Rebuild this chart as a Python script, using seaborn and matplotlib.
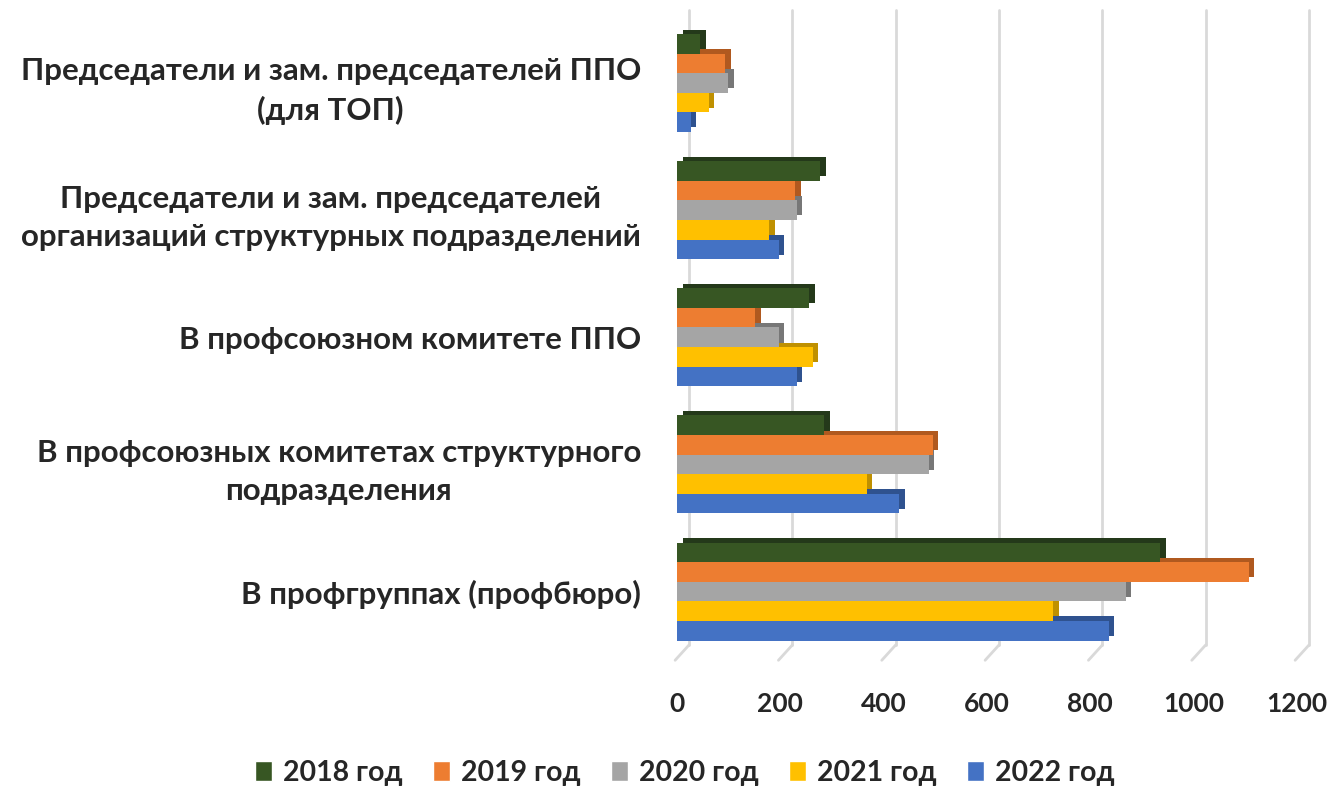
import pandas as pd
import numpy as np
import matplotlib
matplotlib.use('Agg')
import matplotlib.pyplot as plt
import seaborn as sns
from matplotlib.patches import Rectangle
from matplotlib.transforms import ScaledTranslation

sns.set_style('white')
plt.rcParams['font.family'] = ['Lato', 'DejaVu Sans']
plt.rcParams['font.weight'] = 'bold'

# Data
categories = [
    'Председатели и зам. председателей ППО\n(для ТОП)',
    'Председатели и зам. председателей\nорганизаций структурных подразделений',
    'В профсоюзном комитете ППО',
    'В профсоюзных комитетах структурного\nподразделения',
    'В профгруппах (профбюро)',
]
years = ['2018 год', '2019 год', '2020 год', '2021 год', '2022 год']
v2018 = [45, 277, 256, 285, 935]
v2019 = [93, 229, 151, 495, 1107]
v2020 = [99, 232, 197, 487, 869]
v2021 = [61, 179, 263, 367, 728]
v2022 = [27, 197, 232, 430, 836]
xticks = [0, 200, 400, 600, 800, 1000, 1200]

colors = ['#375623', '#ED7D31', '#A5A5A5', '#FFC000', '#4472C4']
side_colors = ['#24391a', '#b0591f', '#777777', '#bf9000', '#2f528f']

rows = []
for year, vals in zip(years, [v2018, v2019, v2020, v2021, v2022]):
    for cat, v in zip(categories, vals):
        rows.append({'cat': cat, 'year': year, 'val': v})
df = pd.DataFrame(rows)

fig = plt.figure(figsize=(13.28, 7.89), dpi=100)
ax = fig.add_axes([677 / 1328, 1 - 645 / 789, 620 / 1328, 635 / 789])

sns.barplot(data=df, y='cat', x='val', hue='year', orient='h',
            order=categories, hue_order=years, palette=colors,
            width=0.77, saturation=1, linewidth=0, ax=ax, legend=False)

# fake 3D depth: darker copy of each bar shifted up-right behind it
shift = ScaledTranslation(0.055, 0.045, fig.dpi_scale_trans)
bars = list(ax.patches)
for i, p in enumerate(bars):
    yi = i // len(categories)
    back = Rectangle(p.get_xy(), p.get_width(), p.get_height(),
                     facecolor=side_colors[yi], edgecolor='none',
                     transform=ax.transData + shift, zorder=p.get_zorder() - 0.5)
    ax.add_patch(back)

ax.set_xlim(0, 1200)
ax.set_ylim(4.42, -0.574)
ax.set_xticks(xticks)

# gridlines on the back wall plus the slanted floor lines
wall = ax.get_xaxis_transform() + ScaledTranslation(0.12, 0, fig.dpi_scale_trans)
for x in xticks:
    ax.plot([x, x], [0, 1], color='#d9d9d9', linewidth=2, zorder=0,
            transform=wall, clip_on=False)
    ax.annotate('', xy=(x, 0), xycoords=wall,
                xytext=(-10, -11), textcoords='offset points',
                arrowprops=dict(arrowstyle='-', color='#d9d9d9', lw=2,
                                shrinkA=0, shrinkB=0),
                annotation_clip=False)

for s in ax.spines.values():
    s.set_visible(False)
ax.tick_params(axis='both', length=0)
ax.tick_params(axis='x', pad=34, labelsize=19)
ax.tick_params(axis='y', pad=26, labelsize=22.5)
for lbl in ax.get_yticklabels():
    lbl.set_multialignment('center')
    lbl.set_linespacing(1.45)
    lbl.set_fontweight('bold')
for lbl in ax.get_xticklabels():
    lbl.set_fontweight('bold')
ax.set_xlabel('')
ax.set_ylabel('')

handles = [Rectangle((0, 0), 1, 1, facecolor=c) for c in colors]
fig.legend(handles, years, loc='center', bbox_to_anchor=(685 / 1328, 1 - 773 / 789),
           ncol=5, frameon=False, handlelength=0.6, handleheight=0.7,
           handletextpad=0.4, columnspacing=1.05,
           prop={'weight': 'bold', 'size': 20.5})

fig.savefig('out.png', dpi=100)
